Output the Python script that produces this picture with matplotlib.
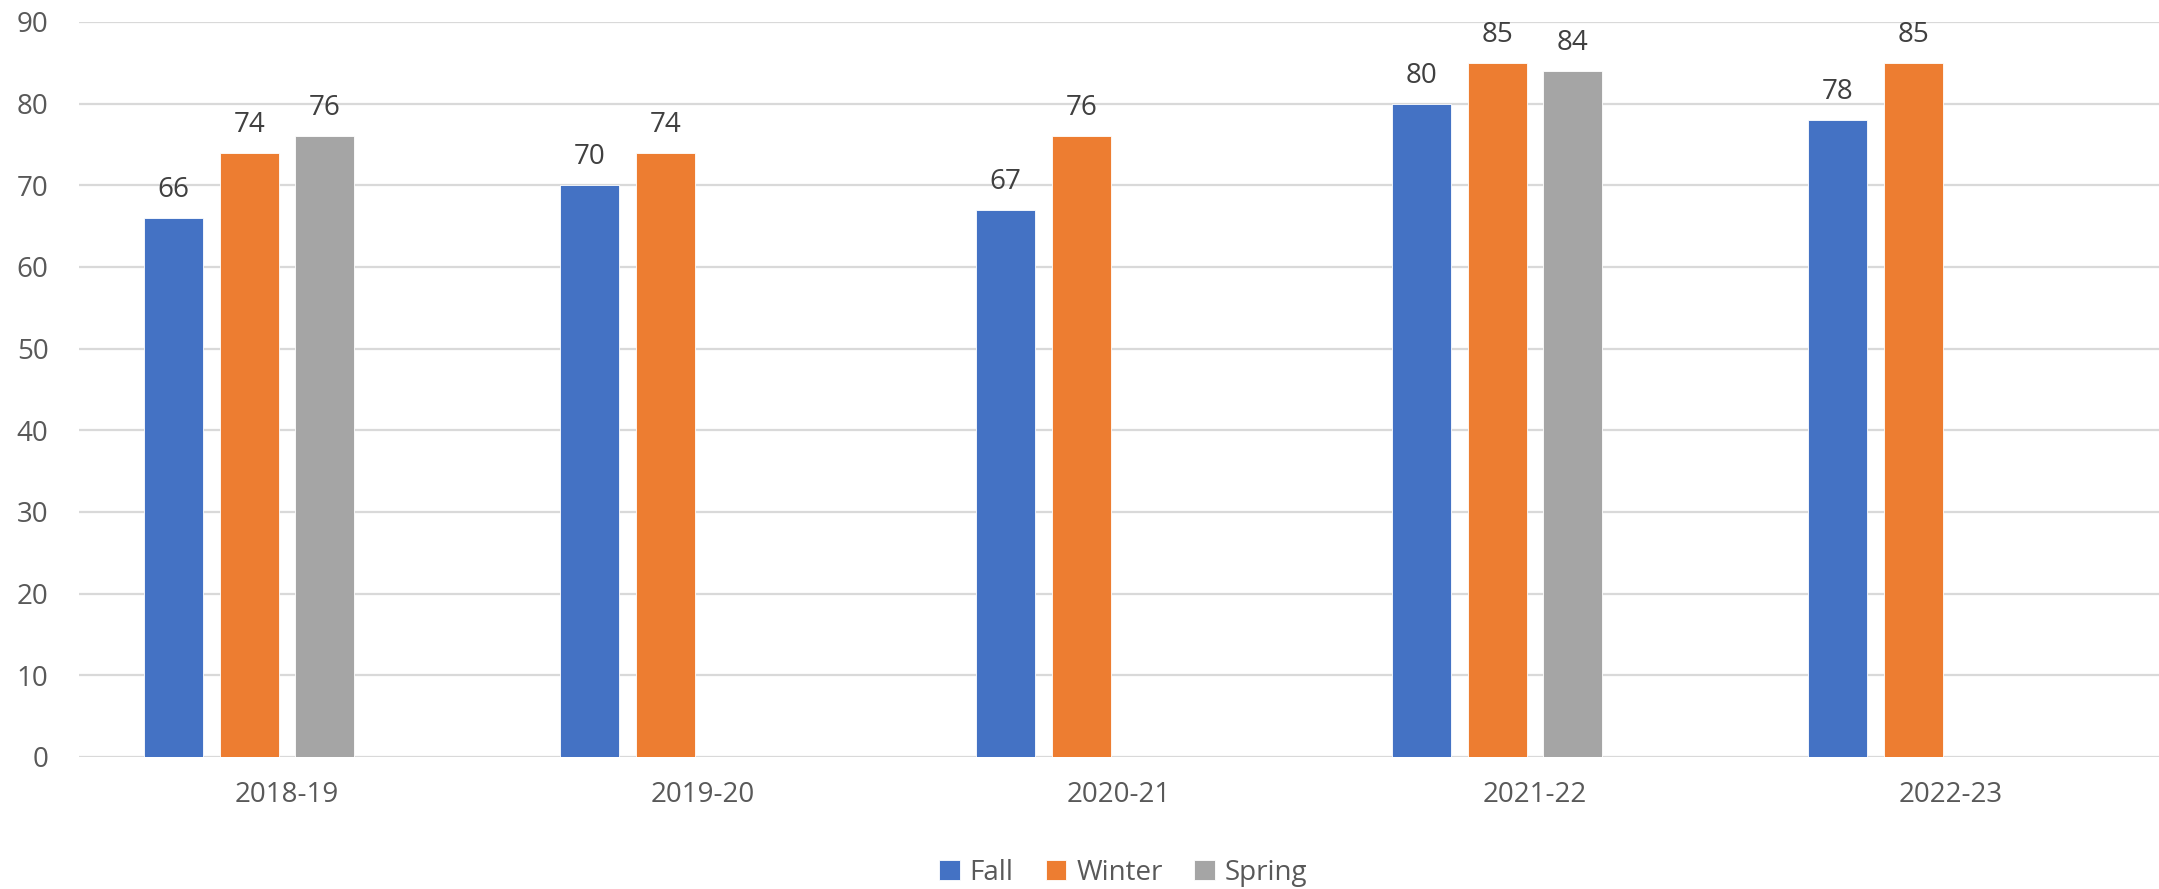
import numpy as np
import matplotlib
matplotlib.use("Agg")
import matplotlib.pyplot as plt

# Data
# ====
years = ["2018-19", "2019-20", "2020-21", "2021-22", "2022-23"]
fall = [66, 70, 67, 80, 78]
winter = [74, 74, 76, 85, 85]
spring = [76, None, None, 84, None]

series_names = ["Fall", "Winter", "Spring"]
series_colors = ["#4472C4", "#ED7D31", "#A5A5A5"]

# Make plot
# =========
plt.rcParams["font.family"] = ["Open Sans", "DejaVu Sans"]

fig = plt.figure(figsize=(21.59, 8.89), dpi=100)
ax_left = 79 / 2159
ax = fig.add_axes([ax_left, 0.1485, 1 - ax_left, 0.8268])

x_pos = np.arange(len(years))
pitch = 0.1815
width = 0.143
# four slots per category, the last one is left empty
offsets = [-1.5, -0.5, 0.5]

for vals, name, color, off in zip([fall, winter, spring], series_names, series_colors, offsets):
    xs = [x + off * pitch for x, v in zip(x_pos, vals) if v is not None]
    ys = [v for v in vals if v is not None]
    bars = ax.bar(xs, ys, width=width, color=color, label=name,
                  edgecolor="white", linewidth=0.6, zorder=3)
    for b, v in zip(bars, ys):
        ax.annotate(str(v), (b.get_x() + b.get_width() / 2, v),
                    xytext=(0, 10), textcoords="offset points",
                    ha="center", va="bottom", fontsize=20, color="#404040")

ax.set_xlim(-0.5, len(years) - 0.5)
ax.set_ylim(0, 90)
ax.set_yticks(range(0, 91, 10))
ax.set_xticks(x_pos)
ax.set_xticklabels(years)
ax.tick_params(axis="both", length=0, labelsize=20, labelcolor="#595959")
ax.tick_params(axis="x", pad=17)
ax.tick_params(axis="y", pad=22)

ax.grid(axis="y", color="#D9D9D9", linewidth=1.6, zorder=0)
for s in ax.spines.values():
    s.set_visible(False)

# legend sits under the plot area, centred on it
fig.legend(loc="center", bbox_to_anchor=(ax_left + (1 - ax_left) / 2 + 0.002, 1 - 873 / 889),
           ncol=3, frameon=False, fontsize=20, labelcolor="#595959",
           handlelength=0.75, handleheight=0.75, handletextpad=0.35,
           columnspacing=1.15)

plt.savefig("out.png", dpi=100)
plt.close()
